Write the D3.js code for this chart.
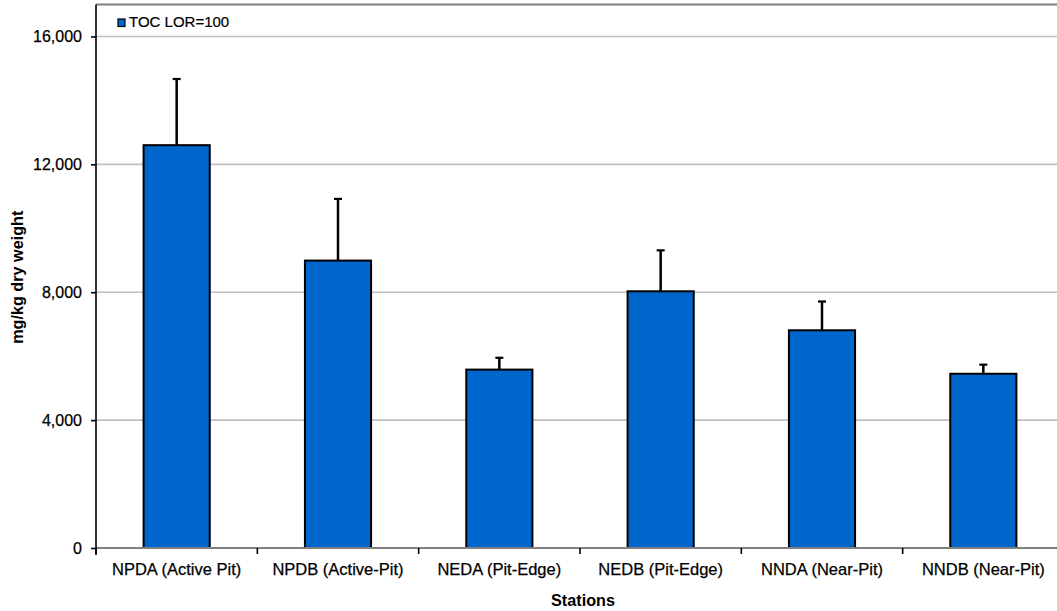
<!DOCTYPE html>
<html>
<head>
<meta charset="utf-8">
<script src="https://cdn.jsdelivr.net/npm/d3@7"></script>
<style>
  html, body { margin: 0; padding: 0; background: #fff; }
  svg { display: block; font-family: Arial, "Liberation Sans", sans-serif; }
</style>
</head>
<body>
<svg id="chart" width="1057" height="611"></svg>
<script>
const categories = ["NPDA (Active Pit)", "NPDB (Active-Pit)", "NEDA (Pit-Edge)", "NEDB (Pit-Edge)", "NNDA (Near-Pit)", "NNDB (Near-Pit)"];
const tocValues = [12600, 8990, 5580, 8030, 6810, 5450];
const tocErrorTop = [14670, 10920, 5950, 9310, 7710, 5735];
const yTicks = [0, 4000, 8000, 12000, 16000];
const seriesName = "TOC LOR=100";
const xTitle = "Stations";
const yTitle = "mg/kg dry weight";

(function () {
const svg = d3.select("#chart");
const pL = 96, pR = 1064, pT = 4.5, pB = 548;

const x = d3.scaleBand().domain(categories).range([pL, pR]).paddingInner(0).paddingOuter(0);
const y = d3.scaleLinear().domain([0, 17000]).range([pB, pT]);

// gridlines
svg.append("g").selectAll("line").data(yTicks.filter(d => d > 0)).join("line")
  .attr("x1", pL).attr("x2", pR + 10)
  .attr("y1", d => y(d)).attr("y2", d => y(d))
  .attr("stroke", "#c0c0c0").attr("stroke-width", 1.6);

// top border
svg.append("line").attr("x1", pL).attr("x2", pR + 10).attr("y1", pT).attr("y2", pT)
  .attr("stroke", "#808080").attr("stroke-width", 2);

// error bars
const bw = x.bandwidth() * 0.41;
const eg = svg.append("g");
categories.forEach((c, i) => {
  const cx = x(c) + x.bandwidth() / 2;
  eg.append("line").attr("x1", cx).attr("x2", cx)
    .attr("y1", y(tocValues[i])).attr("y2", y(tocErrorTop[i]))
    .attr("stroke", "#000").attr("stroke-width", 2.5);
  eg.append("line").attr("x1", cx - 4).attr("x2", cx + 4)
    .attr("y1", y(tocErrorTop[i])).attr("y2", y(tocErrorTop[i]))
    .attr("stroke", "#000").attr("stroke-width", 2.2);
});

// bars
svg.append("g").selectAll("rect").data(categories).join("rect")
  .attr("x", d => x(d) + (x.bandwidth() - bw) / 2)
  .attr("width", bw)
  .attr("y", (d, i) => y(tocValues[i]))
  .attr("height", (d, i) => y(0) - y(tocValues[i]))
  .attr("fill", "#0066CC").attr("stroke", "#000").attr("stroke-width", 2);

// zero line
svg.append("line").attr("x1", pL).attr("x2", pR + 10).attr("y1", pB).attr("y2", pB)
  .attr("stroke", "#808080").attr("stroke-width", 2.2);

// y axis
const yAxis = d3.axisLeft(y).tickValues(yTicks).tickSize(5).tickPadding(9).tickFormat(d3.format(","));
const ya = svg.append("g").attr("transform", `translate(${pL},0)`).call(yAxis);
ya.select(".domain").attr("d", `M0,${pT}V${pB + 7}`).attr("stroke", "#000").attr("stroke-width", 1.6);
ya.selectAll(".tick line").attr("stroke", "#000").attr("stroke-width", 1.6);
ya.selectAll(".tick text").attr("font-size", 16).attr("fill", "#000")
  .attr("font-family", "Arial, 'Liberation Sans', sans-serif")
  .attr("stroke", "#000").attr("stroke-width", 0.25);

// x axis
const xa = svg.append("g").attr("transform", `translate(0,${pB})`);
xa.selectAll("line").data(categories.concat(["_end"])).join("line")
  .attr("x1", (d, i) => pL + i * x.bandwidth()).attr("x2", (d, i) => pL + i * x.bandwidth())
  .attr("y1", 0).attr("y2", 6).attr("stroke", "#000").attr("stroke-width", 1.6);
xa.selectAll("text").data(categories).join("text")
  .attr("x", d => x(d) + x.bandwidth() / 2).attr("y", 27)
  .attr("text-anchor", "middle").attr("font-size", 16.5).attr("fill", "#000")
  .attr("stroke", "#000").attr("stroke-width", 0.25)
  .text(d => d);

// axis titles
svg.append("text").attr("x", (pL + pR) / 2 + 3).attr("y", 606)
  .attr("text-anchor", "middle").attr("font-size", 16.2).attr("font-weight", "bold").text(xTitle);
svg.append("text").attr("transform", `translate(23,${(pT + pB) / 2 + 1}) rotate(-90)`)
  .attr("text-anchor", "middle").attr("font-size", 16.2).attr("font-weight", "bold").text(yTitle);

// legend
const lg = svg.append("g");
lg.append("rect").attr("x", 118).attr("y", 19).attr("width", 7).attr("height", 7.5)
  .attr("fill", "#0066CC").attr("stroke", "#000").attr("stroke-width", 1.2);
lg.append("text").attr("x", 129).attr("y", 27).attr("font-size", 15).attr("fill", "#000")
  .attr("stroke", "#000").attr("stroke-width", 0.2).text(seriesName);
})();
</script>
</body>
</html>
